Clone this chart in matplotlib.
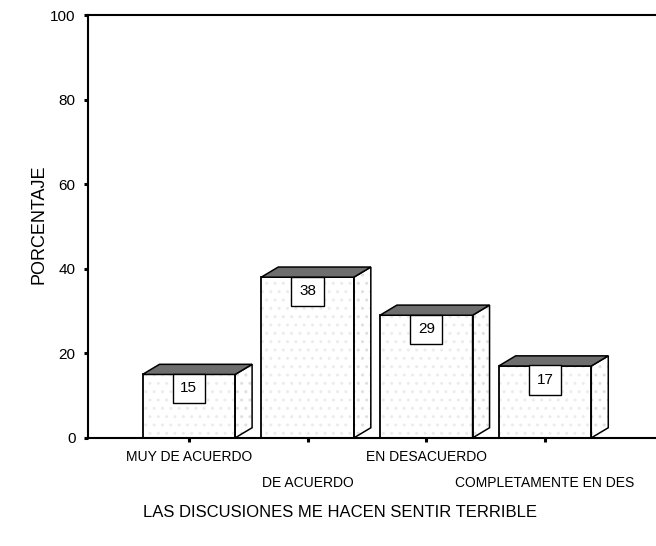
import numpy as np
import matplotlib.pyplot as plt
from matplotlib.patches import Polygon, Rectangle

categories = ['MUY DE ACUERDO', 'DE ACUERDO', 'EN DESACUERDO', 'COMPLETAMENTE EN DES']
values = [15, 38, 29, 17]
yticks = [0, 20, 40, 60, 80, 100]

plt.rcParams['font.family'] = ['Liberation Sans', 'DejaVu Sans']

fig = plt.figure(figsize=(6.56, 5.46), dpi=100)
ax = fig.add_axes([0.134, 0.198, 0.866, 0.7745])

x = np.arange(len(categories))
w = 0.78
dx = 0.143   # depth of the 3d box, horizontal
dy = 2.4     # depth of the 3d box, vertical

for xi, v in zip(x, values):
    l, r = xi - w / 2, xi + w / 2
    # front face with faint dot texture
    ax.add_patch(Rectangle((l, 0), w, v, facecolor='white', edgecolor='none', zorder=2))
    ax.add_patch(Rectangle((l, 0), w, v, facecolor='none', edgecolor='#ececec',
                           hatch='..', lw=0, zorder=2.1))
    ax.add_patch(Rectangle((l, 0), w, v, facecolor='none', edgecolor='black', lw=1.3, zorder=3))
    # side face
    side = [(r, 0), (r + dx, dy), (r + dx, v + dy), (r, v)]
    ax.add_patch(Polygon(side, facecolor='white', edgecolor='none', zorder=2))
    ax.add_patch(Polygon(side, facecolor='none', edgecolor='#e0e0e0', hatch='..', lw=0, zorder=2.1))
    ax.add_patch(Polygon(side, facecolor='none', edgecolor='black', lw=1.1, zorder=3))
    # top face
    top = [(l, v), (l + dx, v + dy), (r + dx, v + dy), (r, v)]
    ax.add_patch(Polygon(top, facecolor='#6e6e6e', edgecolor='black', lw=1.1, zorder=3))
    # value label
    ax.annotate(str(v), (xi, v), xytext=(0, -5), textcoords='offset points',
                ha='center', va='top', fontsize=11, zorder=4,
                bbox=dict(boxstyle='square,pad=0.5', facecolor='white',
                          edgecolor='black', lw=1.0))

ax.set_xlim(-0.85, 3.935)
ax.set_ylim(0, 100)
ax.set_yticks(yticks)
ax.set_yticklabels([str(t) for t in yticks], fontsize=11)
ax.set_xticks(x)
ax.set_xticklabels([])
for i, (xi, name) in enumerate(zip(x, categories)):
    ax.text(xi, -2.9 - 6.0 * (i % 2), name, ha='center', va='top', fontsize=10,
            transform=ax.transData)

ax.tick_params(axis='both', direction='out', length=3, width=2.2, pad=6)
ax.tick_params(axis='x', pad=2)

for s in ['left', 'bottom', 'top']:
    ax.spines[s].set_linewidth(1.5)
ax.spines['right'].set_visible(False)

ax.set_ylabel('PORCENTAJE', fontsize=13)
ax.yaxis.set_label_coords(-0.072, 0.505)
fig.text(0.518, 0.062, 'LAS DISCUSIONES ME HACEN SENTIR TERRIBLE', ha='center',
         va='center', fontsize=12)

fig.savefig('out.png', dpi=100)
